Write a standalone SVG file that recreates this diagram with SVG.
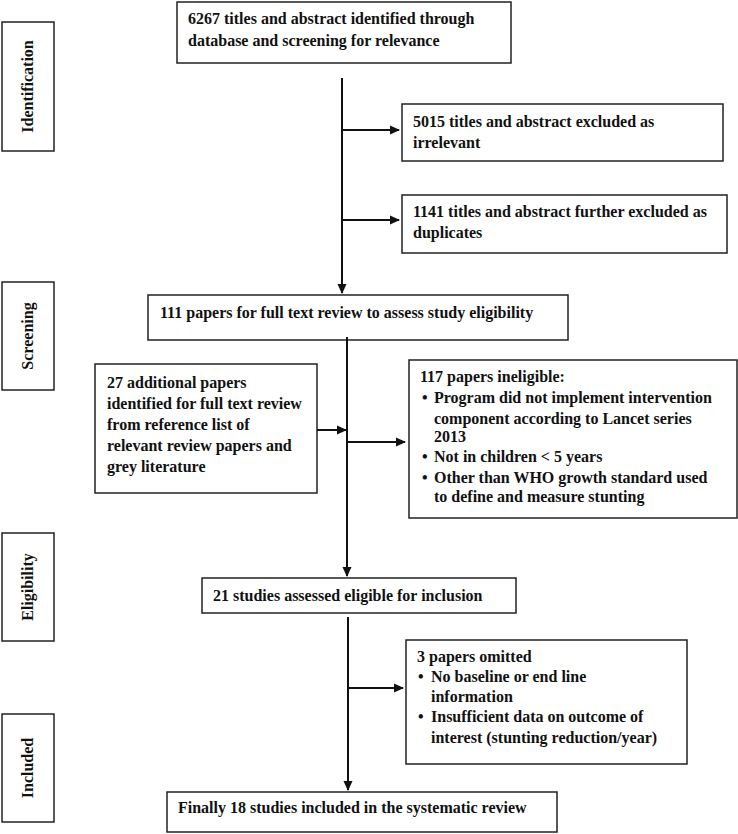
<svg xmlns="http://www.w3.org/2000/svg" width="738" height="834" viewBox="0 0 738 834">
<style>
.box{fill:#fff;stroke:#222;stroke-width:1.5}
.t{font-family:"Liberation Serif",serif;font-weight:bold;font-size:16px;fill:#111}
.c{stroke:#111;stroke-width:2;fill:none}
</style>
<defs>
<marker id="ah" markerWidth="10" markerHeight="10" refX="9" refY="5" orient="auto" markerUnits="userSpaceOnUse">
<path d="M0,0.5 L10,5 L0,9.5 Z" fill="#111"/>
</marker>
</defs>
<rect width="738" height="834" fill="#fff"/>
<g id="stage-identification"><rect class="box" x="2" y="22" width="52" height="129"/><text class="t" transform="translate(33,86.5) rotate(-90)" text-anchor="middle">Identification</text></g>
<g id="stage-screening"><rect class="box" x="2" y="282" width="52" height="108"/><text class="t" transform="translate(33,336) rotate(-90)" text-anchor="middle">Screening</text></g>
<g id="stage-eligibility"><rect class="box" x="2" y="533" width="52" height="108"/><text class="t" transform="translate(33,587) rotate(-90)" text-anchor="middle">Eligibility</text></g>
<g id="stage-included"><rect class="box" x="2" y="714" width="52" height="108"/><text class="t" transform="translate(33,768) rotate(-90)" text-anchor="middle">Included</text></g>

<g id="n-identified"><rect class="box" x="177" y="2" width="334" height="61"/><text class="t" x="188" y="24">6267 titles and abstract identified through</text><text class="t" x="188" y="46">database and screening for relevance</text></g>
<g id="n-irrelevant"><rect class="box" x="402" y="104" width="321" height="57"/><text class="t" x="413" y="127">5015 titles and abstract excluded as</text><text class="t" x="413" y="148">irrelevant</text></g>
<g id="n-duplicates"><rect class="box" x="402" y="195" width="325" height="58"/><text class="t" x="413" y="217">1141 titles and abstract further excluded as</text><text class="t" x="413" y="238">duplicates</text></g>
<g id="n-fulltext"><rect class="box" x="148" y="295" width="420" height="45"/><text class="t" x="160" y="318">111 papers for full text review to assess study eligibility</text></g>
<g id="n-additional"><rect class="box" x="95" y="364" width="222" height="129"/><text class="t" x="107" y="388">27 additional papers</text><text class="t" x="107" y="409">identified for full text review</text><text class="t" x="107" y="430">from reference list of</text><text class="t" x="107" y="451">relevant review papers and</text><text class="t" x="107" y="472">grey literature</text></g>
<g id="n-ineligible"><rect class="box" x="409" y="360" width="328" height="158"/><text class="t" x="420" y="382">117 papers ineligible:</text><text class="t" x="422" y="403">•</text><text class="t" x="434" y="403">Program did not implement intervention</text><text class="t" x="434" y="424">component according to Lancet series</text><text class="t" x="434" y="442">2013</text><text class="t" x="422" y="462">•</text><text class="t" x="434" y="462">Not in children &lt; 5 years</text><text class="t" x="422" y="483">•</text><text class="t" x="434" y="483">Other than WHO growth standard used</text><text class="t" x="434" y="502">to define and measure stunting</text></g>
<g id="n-eligible"><rect class="box" x="202" y="578" width="314" height="35"/><text class="t" x="213" y="601">21 studies assessed eligible for inclusion</text></g>
<g id="n-omitted"><rect class="box" x="406" y="640" width="281" height="124"/><text class="t" x="417" y="662">3 papers omitted</text><text class="t" x="418" y="682">•</text><text class="t" x="431" y="682">No baseline or end line</text><text class="t" x="431" y="702">information</text><text class="t" x="418" y="722">•</text><text class="t" x="431" y="722">Insufficient data on outcome of</text><text class="t" x="431" y="743">interest (stunting reduction/year)</text></g>
<g id="n-final"><rect class="box" x="167" y="792" width="390" height="40"/><text class="t" x="178" y="813">Finally 18 studies included in the systematic review</text></g>

<g id="connectors">
<line class="c" x1="342" y1="78" x2="342" y2="293" marker-end="url(#ah)"/>
<line class="c" x1="342" y1="130" x2="399" y2="130" marker-end="url(#ah)"/>
<line class="c" x1="342" y1="220" x2="399" y2="220" marker-end="url(#ah)"/>
<line class="c" x1="347" y1="337" x2="347" y2="576" marker-end="url(#ah)"/>
<line class="c" x1="317" y1="430" x2="346" y2="430" marker-end="url(#ah)"/>
<line class="c" x1="347" y1="442" x2="405" y2="442" marker-end="url(#ah)"/>
<line class="c" x1="348" y1="617" x2="348" y2="790" marker-end="url(#ah)"/>
<line class="c" x1="348" y1="688" x2="403" y2="688" marker-end="url(#ah)"/>
</g>
</svg>
